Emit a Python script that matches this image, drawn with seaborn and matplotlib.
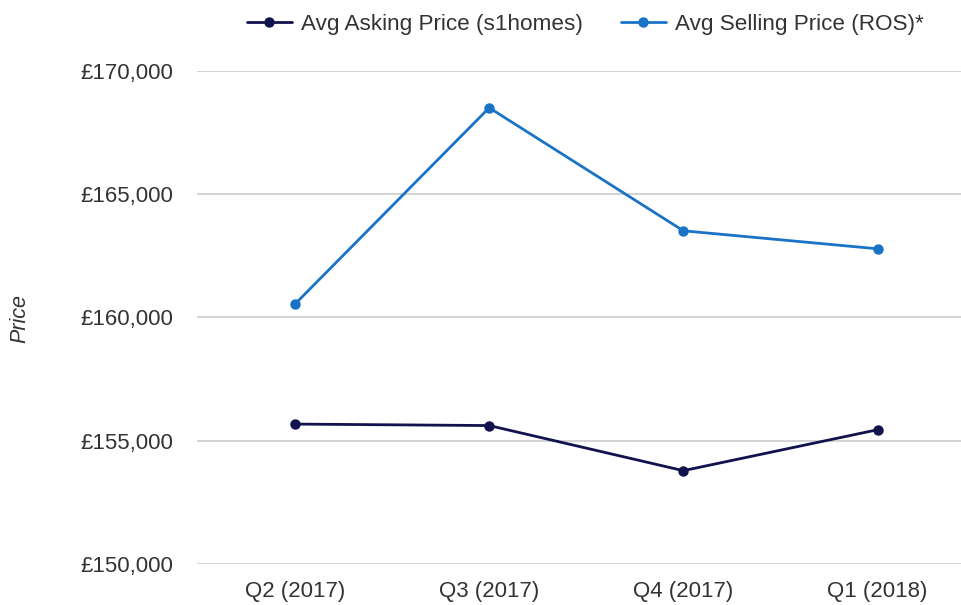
import numpy as np
import pandas as pd
import matplotlib.pyplot as plt
import matplotlib.ticker as mticker
import seaborn as sns

# data
quarters = ['Q2 (2017)', 'Q3 (2017)', 'Q4 (2017)', 'Q1 (2018)']
asking = [155670, 155610, 153780, 155440]
selling = [160540, 168500, 163510, 162780]
series_names = ['Avg Asking Price (s1homes)', 'Avg Selling Price (ROS)*']
colours = ['#12124f', '#1a73c6']

df = pd.DataFrame({
    'Quarter': quarters * 2,
    'Price': asking + selling,
    'Series': [series_names[0]] * 4 + [series_names[1]] * 4,
})
df['pos'] = list(range(len(quarters))) * 2

sns.set_style('white')
plt.rcParams['font.family'] = ['Liberation Sans', 'DejaVu Sans']

fig = plt.figure(figsize=(9.61, 6.05), dpi=100)
ax = fig.add_axes([0.205, 0.068, 0.795, 0.815])

sns.lineplot(data=df, x='pos', y='Price', hue='Series', palette=colours,
             marker='o', markersize=7.5, markeredgewidth=0, linewidth=2.0, ax=ax)

ax.set_ylim(150000, 170000)
ax.set_xlim(-0.505, 3.43)
ax.set_yticks([150000, 155000, 160000, 165000, 170000])
ax.yaxis.set_major_formatter(mticker.FuncFormatter(lambda v, p: '£{:,.0f}'.format(v)))
ax.set_xticks(range(len(quarters)))
ax.set_xticklabels(quarters)
ax.grid(axis='y', color='#cccccc', linewidth=1.2)
ax.set_axisbelow(True)
for s in ax.spines.values():
    s.set_visible(False)
ax.tick_params(axis='both', length=0, labelsize=16, colors='#333333')
ax.tick_params(axis='y', pad=17)
ax.tick_params(axis='x', pad=12)
ax.set_xlabel('')
ax.set_ylabel('')
fig.text(0.021, 0.474, 'Price', rotation=90, style='italic', fontsize=15.5,
         color='#333333', va='center', ha='center')

leg = ax.legend(loc='lower center', bbox_to_anchor=(0.508, 1.032), ncol=2,
                frameon=False, fontsize=16.2, handlelength=2.0, columnspacing=1.69,
                handletextpad=0.4)
for t in leg.get_texts():
    t.set_color('#333333')

plt.savefig('out.png', dpi=100)
